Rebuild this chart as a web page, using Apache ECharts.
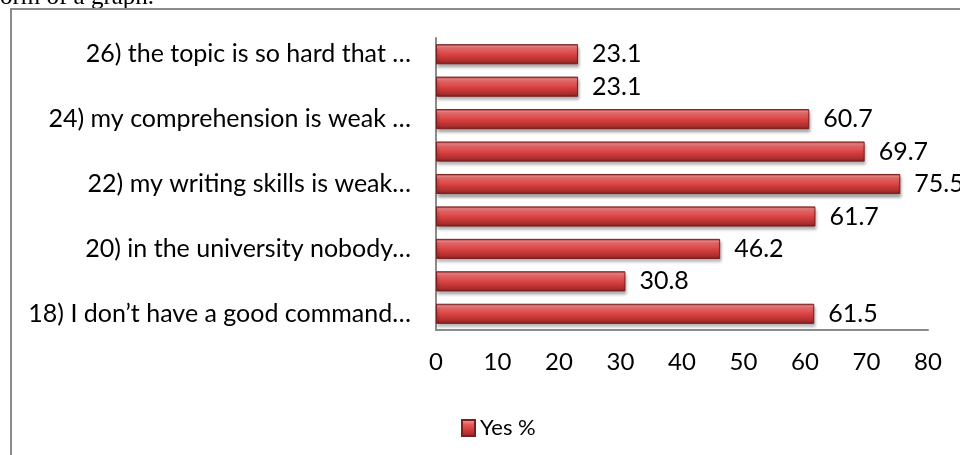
<!DOCTYPE html>
<html>
<head>
<meta charset="utf-8">
<script src="https://cdn.jsdelivr.net/npm/echarts@6/dist/echarts.min.js"></script>
<style>
html,body{margin:0;padding:0;background:#fff;}
#chart{width:960px;height:455px;}
</style>
</head>
<body>
<div id="chart"></div>
<script>
const categories = [
  "18) I don\u2019t have a good command\u2026",
  "19)",
  "20) in the university nobody\u2026",
  "21)",
  "22) my writing skills is weak\u2026",
  "23)",
  "24) my comprehension is weak \u2026",
  "25)",
  "26) the topic is so hard that \u2026"
];
const yesValues = [61.5, 30.8, 46.2, 61.7, 75.5, 69.7, 60.7, 23.1, 23.1];
const seriesName = "Yes %";
const xTicks = { min: 0, max: 80, interval: 10 };

const barGradient = new echarts.graphic.LinearGradient(0, 0, 0, 1, [
  { offset: 0, color: '#a02828' },
  { offset: 0.12, color: '#f48a8a' },
  { offset: 0.3, color: '#e85a5a' },
  { offset: 0.6, color: '#d03c3c' },
  { offset: 0.85, color: '#ac2e2e' },
  { offset: 1, color: '#7a1c1c' }
]);

const chart = echarts.init(document.getElementById('chart'), null, { renderer: 'canvas' });
const font = 'Lato, "Open Sans", sans-serif';
chart.setOption({
  animation: false,
  backgroundColor: '#ffffff',
  graphic: [
    { type: 'text', left: 0, top: -15, style: { text: 'orm of a graph.', font: '25px "Liberation Serif", "DejaVu Serif", serif', fill: '#000' }, z: 0 },
    { type: 'polyline', shape: { points: [[11, 460], [11, 9], [960, 9]] }, style: { stroke: '#8c8c8c', lineWidth: 2, fill: null }, z: 0 }
  ],
  grid: { left: 436, right: 32, top: 38, bottom: 125, containLabel: false },
  legend: {
    data: [seriesName],
    left: 456, top: 412,
    icon: 'rect', itemWidth: 13, itemHeight: 16, itemGap: 4,
    textStyle: { fontFamily: font, fontSize: 22, color: '#000' }
  },
  xAxis: {
    type: 'value', min: xTicks.min, max: xTicks.max, interval: xTicks.interval,
    splitLine: { show: false },
    axisLine: { show: true, lineStyle: { color: '#8c8c8c', width: 2 } },
    axisTick: { show: false },
    axisLabel: { fontFamily: font, fontSize: 24, color: '#000', margin: 20 }
  },
  yAxis: {
    type: 'category', data: categories,
    axisLine: { show: true, lineStyle: { color: '#8c8c8c', width: 2 } },
    axisTick: { show: false },
    axisLabel: { interval: 1, fontFamily: font, fontSize: 25, color: '#000', margin: 25 }
  },
  series: [{
    name: seriesName, type: 'bar', data: yesValues,
    barCategoryGap: '38%',
    itemStyle: {
      color: barGradient,
      borderColor: '#7a1f1f', borderWidth: 1,
      shadowColor: 'rgba(0,0,0,0.35)', shadowBlur: 3, shadowOffsetY: 3, shadowOffsetX: 1
    },
    label: { show: true, position: 'right', distance: 14, fontFamily: font, fontSize: 25, color: '#000' }
  }]
});
</script>
</body>
</html>
